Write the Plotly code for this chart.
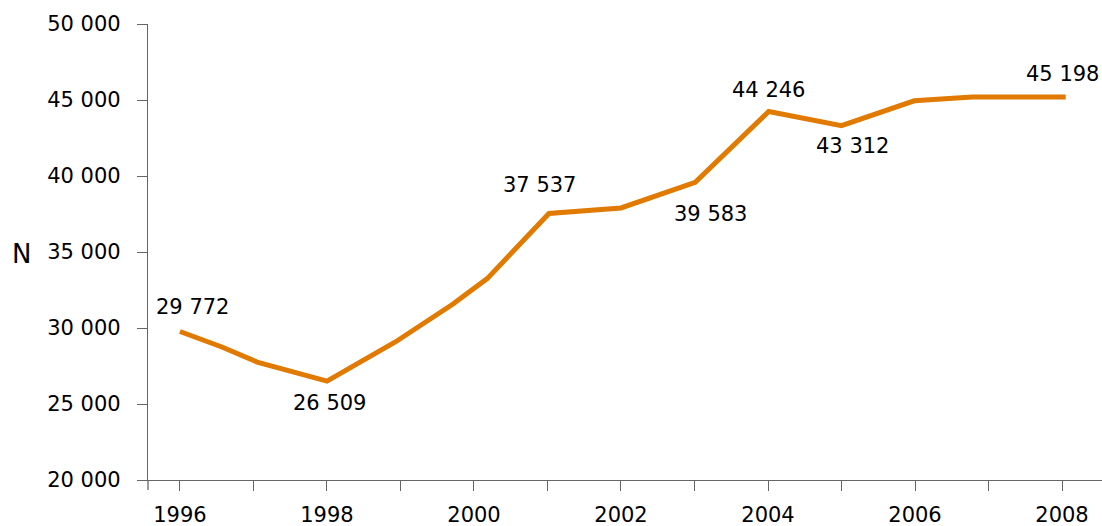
import plotly.graph_objects as go

# Data
x_years = [1996.0, 1996.57, 1997.05, 1998.0, 1998.93, 1999.71, 2000.18, 2001.02,
           2002.0, 2003.01, 2004.01, 2005.0, 2005.99, 2006.78, 2008.05]
values = [29772, 28750, 27760, 26509, 29080, 31560, 33250, 37537,
          37900, 39583, 44246, 43312, 44950, 45200, 45198]

label_x = [1996.0, 1998.0, 2001.02, 2003.01, 2004.01, 2005.0, 2008.05]
label_values = [29772, 26509, 37537, 39583, 44246, 43312, 45198]
label_shift_x = [13, 3, -9, 15, 0, 11, -3]
label_shift_y = [24, -22, 28, -32, 21, -20, 23]

tick_years = list(range(1996, 2009))
tick_labels = [str(y) if y % 2 == 0 else "" for y in tick_years]
y_ticks = [20000, 25000, 30000, 35000, 40000, 45000, 50000]
y_title = "N"

FONT = "DejaVu Sans"
AXIS_COLOR = "#666666"
LINE_COLOR = "#E07A00"

fig = go.Figure()
fig.add_trace(go.Scatter(
    x=x_years, y=values, mode="lines",
    line=dict(color=LINE_COLOR, width=5),
    hoverinfo="skip", showlegend=False,
))

for lx, lv, sx, sy in zip(label_x, label_values, label_shift_x, label_shift_y):
    fig.add_annotation(
        x=lx, y=lv, text=f"{lv:,}".replace(",", " "),
        showarrow=False, xshift=sx, yshift=sy,
        xanchor="center", yanchor="middle",
        font=dict(family=FONT, size=21, color="black"),
    )

fig.add_annotation(
    xref="paper", yref="paper", x=-0.133, y=0.495,
    text=y_title, showarrow=False, xanchor="center", yanchor="middle",
    font=dict(family=FONT, size=26, color="black"),
)

# small extension of the y axis line below the x axis (as in the reference)
fig.add_shape(
    type="line", xref="paper", yref="paper",
    x0=0, x1=0, y0=0, y1=-0.022,
    line=dict(color=AXIS_COLOR, width=1.3),
)

fig.update_layout(
    width=1102, height=526,
    margin=dict(l=148, r=0, t=24, b=46),
    paper_bgcolor="white", plot_bgcolor="white",
    separators=". ",
    font=dict(family=FONT, size=21, color="black"),
    showlegend=False,
)

fig.update_xaxes(
    range=[1995.565, 2008.544], automargin=False,
    tickvals=tick_years, ticktext=tick_labels,
    ticks="outside", ticklen=10, tickwidth=1.3, tickcolor=AXIS_COLOR,
    showline=True, linecolor=AXIS_COLOR, linewidth=1.3,
    showgrid=False, zeroline=False,
    ticklabelstandoff=6,
    tickfont=dict(family=FONT, size=21, color="black"),
)
fig.update_yaxes(
    range=[20000, 50000], automargin=False,
    tickvals=y_ticks, tickformat=",d",
    ticks="outside", ticklen=10, tickwidth=1.3, tickcolor=AXIS_COLOR,
    showline=True, linecolor=AXIS_COLOR, linewidth=1.3,
    showgrid=False, zeroline=False,
    ticklabelstandoff=12,
    tickfont=dict(family=FONT, size=21, color="black"),
)

fig.write_html("out.html")
